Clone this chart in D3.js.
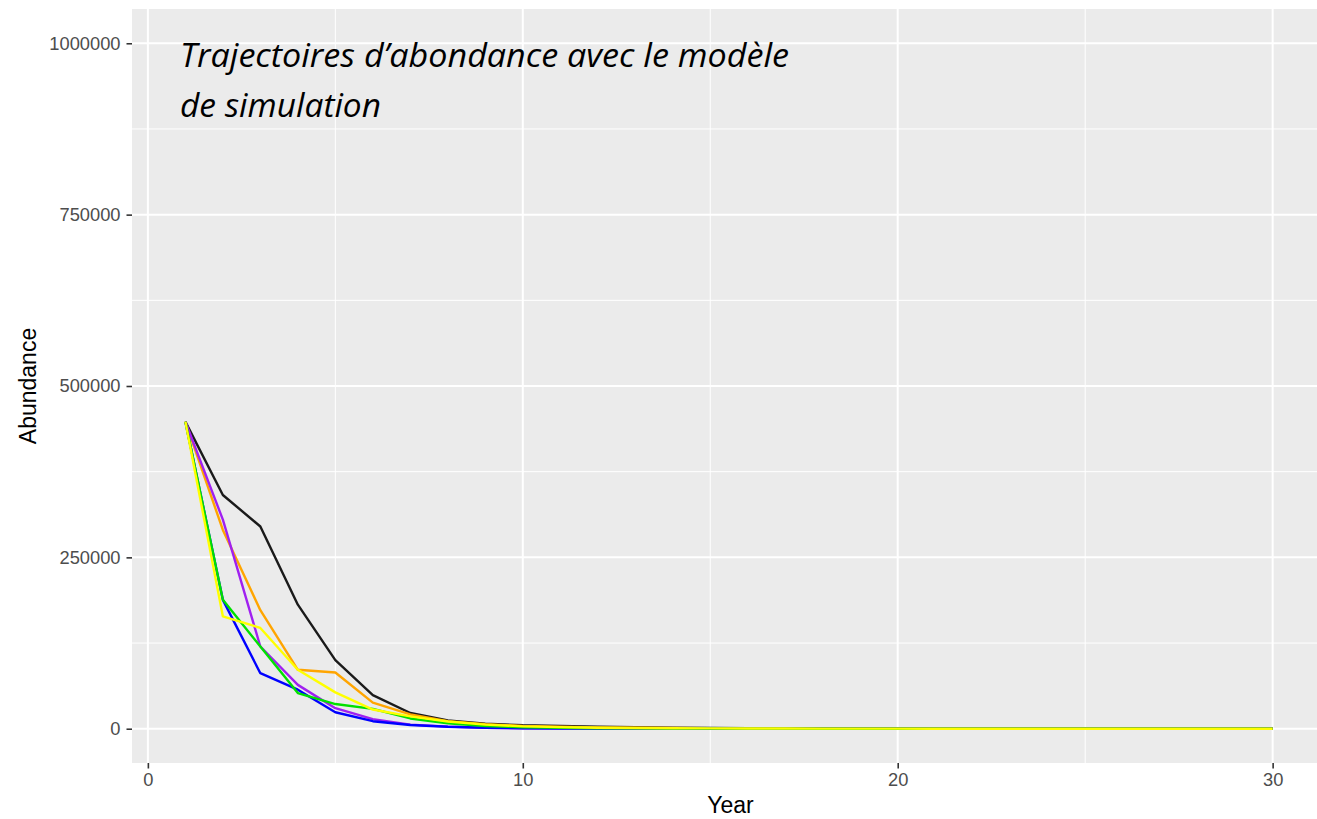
<!DOCTYPE html>
<html>
<head>
<meta charset="utf-8">
<script src="https://cdn.jsdelivr.net/npm/d3@7"></script>
<style>
  html, body { margin: 0; padding: 0; background: #ffffff; }
  svg { display: block; }
</style>
</head>
<body>
<svg id="chart" width="1317" height="819"></svg>
<script>
// ---- data ----
const years = d3.range(1, 31);
const seriesNames = ["black", "orange", "purple", "blue", "green", "yellow"];
const seriesColors = ["#1a1a1a", "#FFA500", "#A020F0", "#0000FF", "#00E000", "#FFFF00"];
const blackValues  = [448000, 341000, 295000, 181000, 100000, 49000, 23000, 12000, 7500, 5000, 4000, 3000, 2200, 1600, 1200, 900, 700, 500, 400, 300, 200, 150, 100, 80, 60, 40, 30, 20, 10, 5];
const orangeValues = [448000, 290000, 173000, 86000, 82000, 38000, 21000, 11000, 6500, 4000, 2800, 2000, 1400, 1000, 700, 500, 350, 250, 180, 130, 90, 60, 40, 30, 20, 15, 10, 5, 3, 2];
const purpleValues = [448000, 305000, 120000, 64000, 30000, 14000, 6000, 3000, 1500, 800, 500, 300, 200, 120, 80, 50, 30, 20, 15, 10, 8, 6, 4, 3, 2, 2, 1, 1, 1, 0];
const blueValues   = [448000, 188000, 81000, 57000, 24000, 11000, 5500, 2800, 1400, 700, 400, 250, 150, 100, 60, 40, 25, 15, 10, 8, 6, 4, 3, 2, 2, 1, 1, 1, 0, 0];
const greenValues  = [448000, 188000, 120000, 52000, 36000, 29000, 15000, 8000, 4000, 2200, 1300, 800, 500, 300, 200, 120, 80, 50, 30, 20, 15, 10, 6, 4, 3, 2, 1, 1, 1, 0];
const yellowValues = [448000, 164000, 147000, 86000, 53000, 28000, 18000, 10500, 6000, 3500, 2300, 1500, 1000, 700, 500, 350, 250, 170, 120, 80, 60, 40, 30, 20, 15, 10, 6, 4, 2, 1];
const seriesValues = [blackValues, orangeValues, purpleValues, blueValues, greenValues, yellowValues];

const xTicks = [0, 10, 20, 30];
const xMinor = [5, 15, 25];
const yTicks = [0, 250000, 500000, 750000, 1000000];
const yMinor = [125000, 375000, 625000, 875000];
const titleLines = ["Trajectoires d\u2019abondance avec le mod\u00e8le", "de simulation"];
const xTitle = "Year";
const yTitle = "Abundance";

// ---- layout ----
const panel = { left: 132, top: 9, right: 1329, bottom: 763 };
const svg = d3.select("#chart");

const x = d3.scaleLinear().domain([-0.45, 31.45]).range([131, 1327]);
const y = d3.scaleLinear().domain([-50000, 1050000]).range([763, 9]);

svg.append("rect")
  .attr("x", panel.left).attr("y", panel.top)
  .attr("width", panel.right - panel.left).attr("height", panel.bottom - panel.top)
  .attr("fill", "#EBEBEB");

const grid = svg.append("g");
grid.selectAll(".ymin").data(yMinor).join("line")
  .attr("x1", panel.left).attr("x2", panel.right)
  .attr("y1", d => y(d)).attr("y2", d => y(d))
  .attr("stroke", "#ffffff").attr("stroke-width", 1);
grid.selectAll(".xmin").data(xMinor).join("line")
  .attr("y1", panel.top).attr("y2", panel.bottom)
  .attr("x1", d => x(d)).attr("x2", d => x(d))
  .attr("stroke", "#ffffff").attr("stroke-width", 1);
grid.selectAll(".ymaj").data(yTicks).join("line")
  .attr("x1", panel.left).attr("x2", panel.right)
  .attr("y1", d => y(d)).attr("y2", d => y(d))
  .attr("stroke", "#ffffff").attr("stroke-width", 2);
grid.selectAll(".xmaj").data(xTicks).join("line")
  .attr("y1", panel.top).attr("y2", panel.bottom)
  .attr("x1", d => x(d)).attr("x2", d => x(d))
  .attr("stroke", "#ffffff").attr("stroke-width", 2);

// ---- lines ----
const line = d3.line().x((d, i) => x(years[i])).y(d => y(d));
svg.append("g").selectAll("path").data(seriesValues).join("path")
  .attr("d", d => line(d))
  .attr("fill", "none")
  .attr("stroke", (d, i) => seriesColors[i])
  .attr("stroke-width", 2.4)
  .attr("stroke-linejoin", "round");

// ---- axes ----
const axisFont = "'Liberation Sans', Arial, sans-serif";
const xAxis = svg.append("g").attr("transform", `translate(0,${panel.bottom})`)
  .call(d3.axisBottom(x).tickValues(xTicks).tickSize(5.5).tickPadding(5).tickFormat(d3.format("d")));
const yAxis = svg.append("g").attr("transform", `translate(${panel.left},0)`)
  .call(d3.axisLeft(y).tickValues(yTicks).tickSize(5.5).tickPadding(6).tickFormat(d3.format("d")));
[xAxis, yAxis].forEach(a => {
  a.select(".domain").remove();
  a.selectAll(".tick line").attr("stroke", "#333333").attr("stroke-width", 1.6);
  a.selectAll(".tick text").attr("fill", "#4D4D4D")
    .style("font-family", axisFont).style("font-size", "18.3px");
});

svg.append("text")
  .attr("x", (panel.left + panel.right) / 2).attr("y", 813)
  .attr("text-anchor", "middle")
  .style("font-family", axisFont).style("font-size", "23px").attr("fill", "#000")
  .text(xTitle);
svg.append("text")
  .attr("transform", `translate(36,${(panel.top + panel.bottom) / 2}) rotate(-90)`)
  .attr("text-anchor", "middle")
  .style("font-family", axisFont).style("font-size", "23px").attr("fill", "#000")
  .text(yTitle);

// ---- overlay title ----
const titleWidths = [609, 201];
const titleY = [67, 117];
svg.append("g").selectAll("text").data(titleLines).join("text")
  .attr("x", 180).attr("y", (d, i) => titleY[i])
  .attr("textLength", (d, i) => titleWidths[i])
  .attr("lengthAdjust", "spacingAndGlyphs")
  .style("font-family", "'Open Sans', 'Noto Sans', sans-serif")
  .style("font-style", "italic")
  .style("font-size", "33px")
  .attr("fill", "#000")
  .text(d => d);
</script>
</body>
</html>
